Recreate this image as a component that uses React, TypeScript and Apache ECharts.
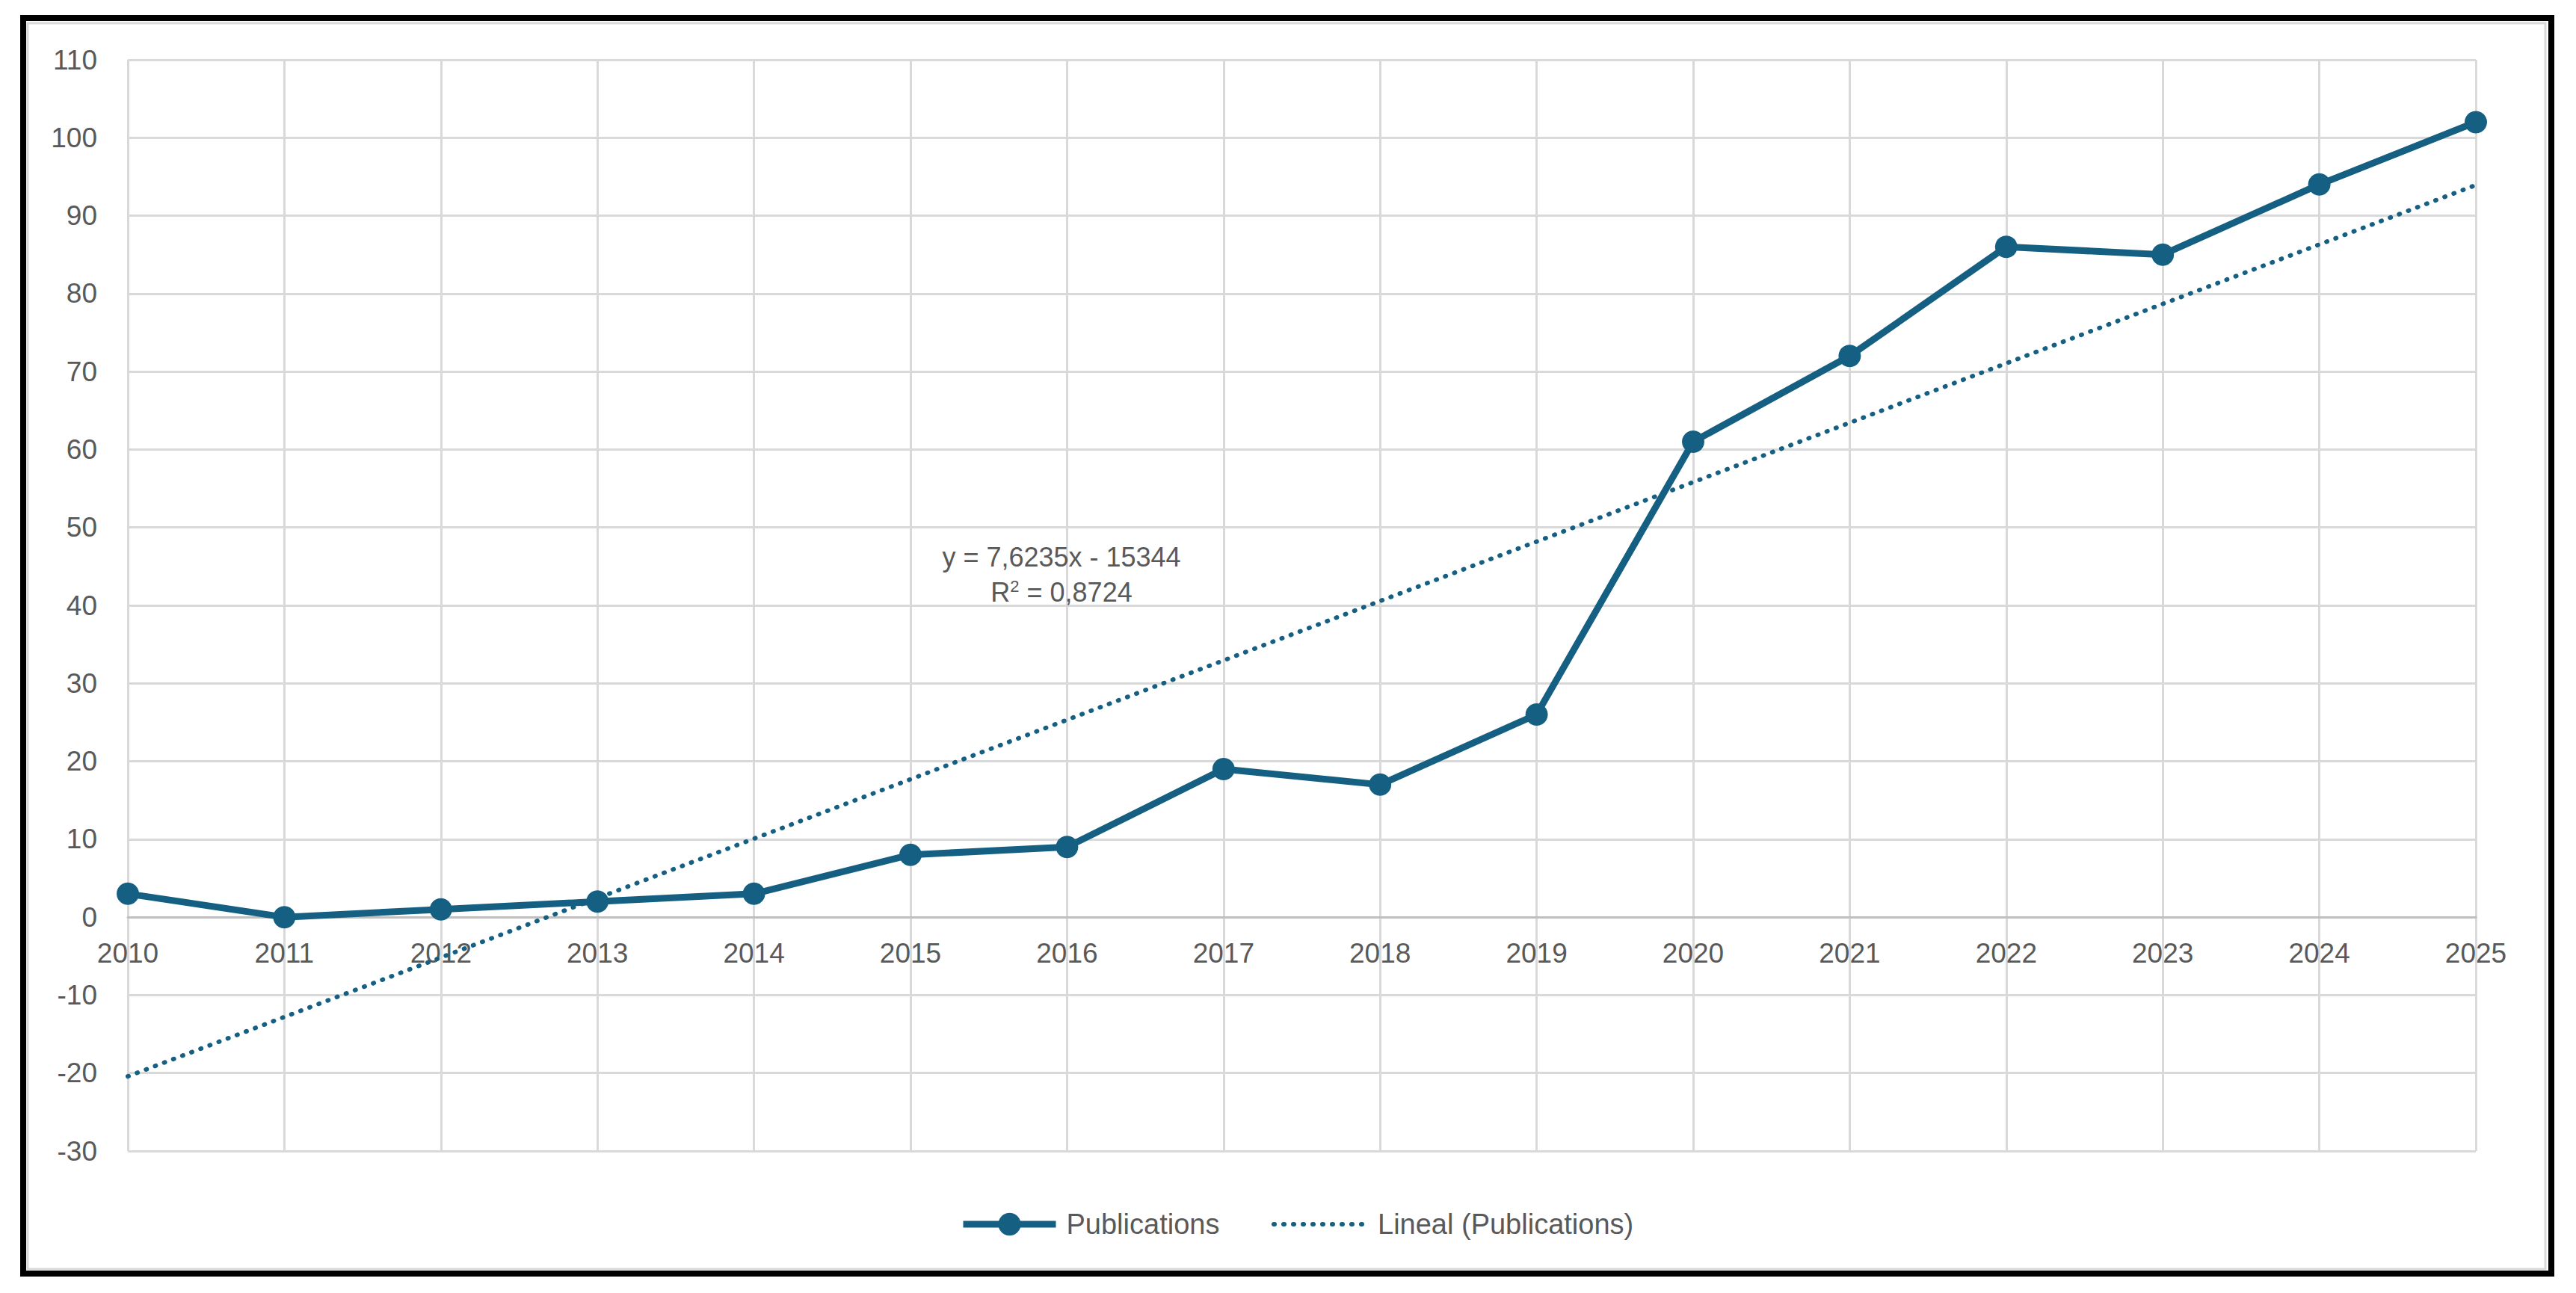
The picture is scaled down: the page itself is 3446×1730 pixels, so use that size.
import React, { useEffect, useRef } from "react";
import * as echarts from "echarts";

const years = ["2010", "2011", "2012", "2013", "2014", "2015", "2016", "2017", "2018", "2019", "2020", "2021", "2022", "2023", "2024", "2025"];
const publications = [3, 0, 1, 2, 3, 8, 9, 19, 17, 26, 61, 72, 86, 85, 94, 102];
const yMin = -30;
const yMax = 110;
const yStep = 10;
const equationLines = ["y = 7,6235x - 15344", "R{sup|2} = 0,8724"];
const seriesNames = ["Publications", "Lineal (Publications)"];

// Linear trendline (least squares) fitted on the publication values
function linearTrend(values: number[]): number[] {
  const n = values.length;
  const xs = values.map((_, i) => i);
  const mx = xs.reduce((a, b) => a + b, 0) / n;
  const my = values.reduce((a, b) => a + b, 0) / n;
  let sxy = 0;
  let sxx = 0;
  for (let i = 0; i < n; i++) {
    sxy += (xs[i] - mx) * (values[i] - my);
    sxx += (xs[i] - mx) * (xs[i] - mx);
  }
  const slope = sxy / sxx;
  const intercept = my - slope * mx;
  return xs.map((x) => +(intercept + slope * x).toFixed(4));
}

const trend = linearTrend(publications);

const BLUE = "#156082";
const TEXT = "#595959";
const GRID = "#d9d9d9";
const FONT = "Liberation Sans, Arial, sans-serif";

const GRID_TOP = 80;
const GRID_BOTTOM = 190;
const H = 1730;
const plotH = H - GRID_TOP - GRID_BOTTOM;
const zeroOffset = (plotH * (0 - yMin)) / (yMax - yMin);

const DOT: any = [1, 12];
const CLEAR = "rgba(0,0,0,0)";

export default function App() {
  const ref = useRef<HTMLDivElement>(null);
  useEffect(() => {
    if (!ref.current) return;
    const chart = echarts.init(ref.current, null, { renderer: "svg" });
    chart.setOption({
      animation: false,
      backgroundColor: "#ffffff",
      textStyle: { fontFamily: FONT },
      grid: { left: 171, right: 134, top: GRID_TOP, bottom: GRID_BOTTOM, containLabel: false },
      xAxis: {
        type: "category",
        data: years,
        boundaryGap: false,
        offset: -zeroOffset,
        axisLine: { show: true, onZero: false, lineStyle: { color: "#bfbfbf", width: 3 } },
        axisTick: { show: false },
        axisLabel: { color: TEXT, fontSize: 37, fontFamily: FONT, margin: 30, interval: 0 },
        splitLine: { show: true, lineStyle: { color: GRID, width: 3 } },
      },
      yAxis: {
        type: "value",
        min: yMin,
        max: yMax,
        interval: yStep,
        axisLine: { show: false },
        axisTick: { show: false },
        axisLabel: { color: TEXT, fontSize: 37, fontFamily: FONT, margin: 41 },
        splitLine: { show: true, lineStyle: { color: GRID, width: 3 } },
      },
      legend: [
        {
          data: [seriesNames[0]],
          left: 1279,
          top: 1614,
          itemWidth: 124,
          itemHeight: 38,
          lineStyle: { width: 9, color: BLUE },
          textStyle: { color: TEXT, fontSize: 38, fontFamily: FONT, padding: [0, 0, 0, 9] },
        },
        {
          data: [seriesNames[1]],
          left: 1696,
          top: 1614,
          itemWidth: 124,
          itemHeight: 38,
          itemStyle: { color: CLEAR, borderColor: CLEAR, borderWidth: 0 },
          lineStyle: { width: 6, color: BLUE, type: DOT, cap: "round" },
          textStyle: { color: TEXT, fontSize: 38, fontFamily: FONT, padding: [0, 0, 0, 10] },
        },
      ],
      series: [
        {
          name: seriesNames[1],
          type: "line",
          data: trend,
          symbol: "none",
          lineStyle: { color: BLUE, width: 6, type: DOT, cap: "round" },
          itemStyle: { color: BLUE },
          z: 2,
        },
        {
          name: seriesNames[0],
          type: "line",
          data: publications,
          symbol: "circle",
          symbolSize: 30,
          lineStyle: { color: BLUE, width: 9 },
          itemStyle: { color: BLUE },
          z: 3,
        },
      ],
      graphic: [
        {
          type: "rect",
          shape: { x: 31, y: 24, width: 3382, height: 1680 },
          style: { fill: "none", stroke: "#000000", lineWidth: 8 },
          silent: true,
        },
        {
          type: "rect",
          shape: { x: 37, y: 31, width: 3368, height: 1667 },
          style: { fill: "none", stroke: GRID, lineWidth: 3 },
          silent: true,
        },
        {
          type: "text",
          x: 1420,
          y: 745,
          style: {
            text: equationLines[0],
            fill: TEXT,
            fontSize: 36,
            fontFamily: FONT,
            align: "center",
            verticalAlign: "middle",
          },
          z: 10,
        },
        {
          type: "text",
          x: 1420,
          y: 792,
          style: {
            text: equationLines[1],
            fill: TEXT,
            fontSize: 36,
            fontFamily: FONT,
            align: "center",
            verticalAlign: "middle",
            rich: {
              sup: { fontSize: 22, verticalAlign: "top", fill: TEXT, padding: [0, 0, 16, 0] },
            },
          },
          z: 10,
        },
      ],
    });
    return () => chart.dispose();
  }, []);
  return (
    <div
      ref={ref}
      style={{ position: "fixed", left: 0, top: 0, width: 3446, height: 1730, background: "#fff" }}
    />
  );
}
